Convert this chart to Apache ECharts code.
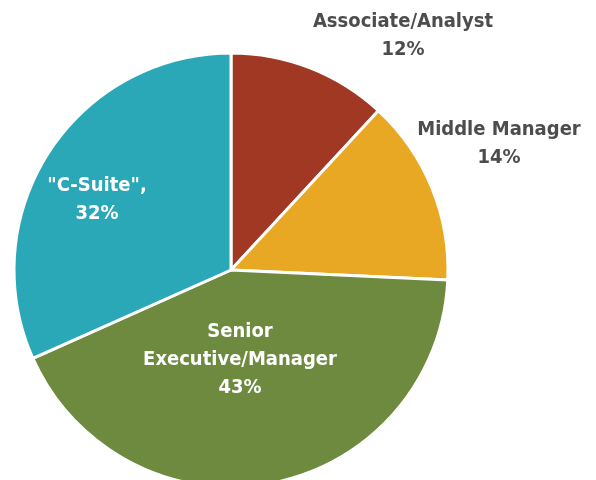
<!DOCTYPE html>
<html>
<head>
<meta charset="utf-8">
<script src="https://cdn.jsdelivr.net/npm/echarts@6/dist/echarts.min.js"></script>
<style>
  html, body { margin: 0; padding: 0; background: #fff; }
  #chart { width: 596px; height: 480px; }
</style>
</head>
<body>
<div id="chart"></div>
<script>
  // slice data, clockwise from 12 o'clock
  var categories = ['Associate/Analyst', 'Middle Manager', 'Senior\nExecutive/Manager', '"C-Suite",'];
  var shares = [12, 14, 43, 32];
  var colors = ['#A13823', '#E9A823', '#6E8A3F', '#2AA8B8'];

  // where each label sits (centre of text block)
  var labelPos = [[403, 36], [499, 144], [240, 360], [97, 200]];
  var labelColor = ['#4D4D4D', '#4D4D4D', '#FFFFFF', '#FFFFFF'];

  var chart = echarts.init(document.getElementById('chart'));

  var data = categories.map(function (name, i) {
    return {
      name: name,
      value: shares[i],
      itemStyle: { color: colors[i] },
      label: { color: labelColor[i] }
    };
  });

  chart.setOption({
    animation: false,
    series: [
      {
        type: 'pie',
        center: [231, 270],
        radius: 217,
        startAngle: 90,
        clockwise: true,
        data: data,
        itemStyle: {
          borderColor: '#FFFFFF',
          borderWidth: 3
        },
        label: {
          show: true,
          position: 'inside',
          formatter: '{b}\n{c}%',
          fontFamily: '"Liberation Sans Narrow", "DejaVu Sans Condensed", sans-serif',
          fontWeight: 'bold',
          fontSize: 20,
          lineHeight: 28,
          align: 'center'
        },
        labelLine: { show: false },
        labelLayout: function (params) {
          var p = labelPos[params.dataIndex];
          return {
            x: p[0],
            y: p[1],
            align: 'center',
            verticalAlign: 'middle'
          };
        }
      }
    ]
  });
</script>
</body>
</html>
